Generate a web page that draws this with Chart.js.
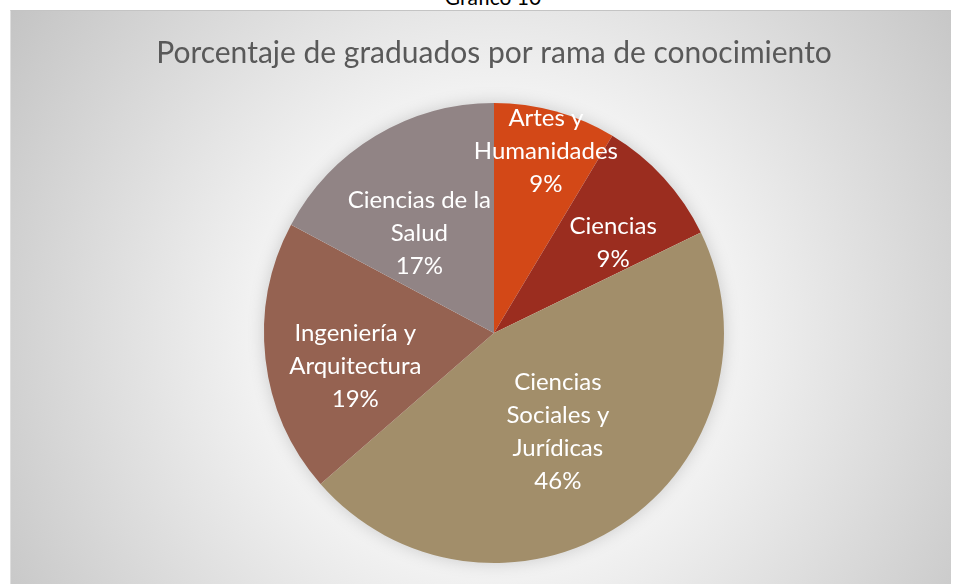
<!DOCTYPE html>
<html lang="es">
<head>
<meta charset="utf-8">
<title>Porcentaje de graduados por rama de conocimiento</title>
<script src="https://cdn.jsdelivr.net/npm/chart.js@4/dist/chart.umd.min.js"></script>
<style>
	html, body {
		margin: 0;
		padding: 0;
		background: #ffffff;
		width: 961px;
		height: 584px;
		overflow: hidden;
		font-family: Lato, 'Open Sans', sans-serif;
	}
	.caption {
		position: absolute;
		left: 0;
		width: 986px;
		top: -16px;
		text-align: center;
		font-size: 21px;
		color: #000;
	}
	.chart-box {
		position: absolute;
		left: 10px;
		top: 10px;
		width: 941px;
		height: 574px;
		box-sizing: border-box;
		border-top: 1px solid #c4c4c4;
		border-left: 1px solid #dedede;
		background: radial-gradient(circle 580px at 483px 322px, #ffffff 0px, #f2f2f2 240px, #c4c4c4 580px);
	}
	.chart-box canvas {
		position: absolute;
		left: 0;
		top: 0;
	}
</style>
</head>
<body>
<div class="caption">Gráfico 10</div>
<div class="chart-box">
	<canvas id="chartPie" width="941" height="574"></canvas>
</div>
<script>
const chartTitle = 'Porcentaje de graduados por rama de conocimiento';
const categories = [
	['Artes y', 'Humanidades'],
	['Ciencias'],
	['Ciencias', 'Sociales y', 'Jurídicas'],
	['Ingeniería y', 'Arquitectura'],
	['Ciencias de la', 'Salud'],
];
const shares = [8.6, 9.2, 45.8, 19.2, 17.2];
const sliceColors = ['#d34817', '#9b2d1f', '#a28e6a', '#956251', '#918485'];

// where each label sits: fraction of the radius, and turn (degrees) from the slice middle
const labelPlacement = [
	{ r: 0.82, turn: 0.5 },
	{ r: 0.65, turn: 5.3 },
	{ r: 0.51, turn: 0.5 },
	{ r: 0.62, turn: -6.9 },
	{ r: 0.54, turn: -6 },
];

const pieShadow = {
	id: 'pieShadow',
	beforeDatasetsDraw(chart) {
		const arc = chart.getDatasetMeta(0).data[0];
		if (!arc) return;
		const { x, y, outerRadius } = arc.getProps(['x', 'y', 'outerRadius'], true);
		const ctx = chart.ctx;
		ctx.save();
		ctx.shadowColor = 'rgba(0, 0, 0, 0.18)';
		ctx.shadowBlur = 18;
		ctx.fillStyle = '#ffffff';
		ctx.beginPath();
		ctx.arc(x, y, outerRadius - 1, 0, Math.PI * 2);
		ctx.fill();
		ctx.restore();
	},
};

const sliceLabels = {
	id: 'sliceLabels',
	afterDatasetsDraw(chart) {
		const ctx = chart.ctx;
		const meta = chart.getDatasetMeta(0);
		const total = shares.reduce((a, b) => a + b, 0);
		const lineH = 33;
		ctx.save();
		ctx.fillStyle = '#ffffff';
		ctx.font = '24px Lato, "Open Sans", sans-serif';
		ctx.textAlign = 'center';
		ctx.textBaseline = 'middle';
		meta.data.forEach((arc, i) => {
			const { x, y, startAngle, endAngle, outerRadius } =
				arc.getProps(['x', 'y', 'startAngle', 'endAngle', 'outerRadius'], true);
			const place = labelPlacement[i];
			const mid = (startAngle + endAngle) / 2 + place.turn * Math.PI / 180;
			const cx = x + Math.cos(mid) * outerRadius * place.r;
			const cy = y + Math.sin(mid) * outerRadius * place.r;
			const lines = categories[i].concat(`${Math.round(shares[i] / total * 100)}%`);
			const top = cy - (lines.length - 1) * lineH / 2;
			lines.forEach((line, k) => ctx.fillText(line, cx, top + k * lineH));
		});
		ctx.restore();
	},
};

document.fonts.load('24px Lato').then(() => {
	new Chart(document.getElementById('chartPie'), {
		type: 'pie',
		data: {
			labels: categories.map((c) => c.join(' ')),
			datasets: [{
				data: shares,
				backgroundColor: sliceColors,
				borderWidth: 0,
			}],
		},
		options: {
			responsive: false,
			animation: false,
			rotation: 0,
			layout: { padding: { left: 25, right: 0, top: 0, bottom: 22 } },
			plugins: {
				legend: { display: false },
				tooltip: { enabled: false },
				title: {
					display: true,
					text: chartTitle,
					color: '#595959',
					font: { family: 'Lato, "Open Sans", sans-serif', size: 30, weight: 'normal', lineHeight: 1.2 },
					padding: { top: 24, bottom: 32 },
				},
			},
		},
		plugins: [pieShadow, sliceLabels],
	});
});
</script>
</body>
</html>
